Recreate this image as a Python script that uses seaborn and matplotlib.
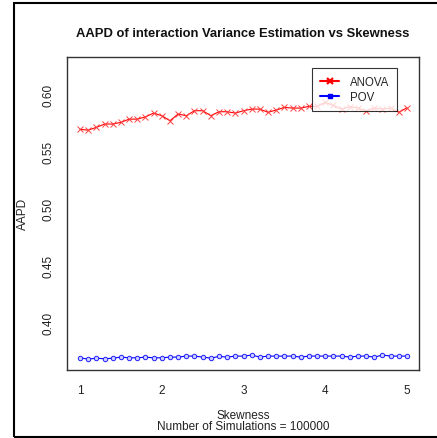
import matplotlib
matplotlib.use("Agg")
import matplotlib.pyplot as plt
import seaborn as sns
import pandas as pd
import numpy as np
from matplotlib.patches import Rectangle
from matplotlib.lines import Line2D

skewness = [1.0, 1.1, 1.2, 1.3, 1.4, 1.5, 1.6, 1.7, 1.8, 1.9,
            2.0, 2.1, 2.2, 2.3, 2.4, 2.5, 2.6, 2.7, 2.8, 2.9,
            3.0, 3.1, 3.2, 3.3, 3.4, 3.5, 3.6, 3.7, 3.8, 3.9,
            4.0, 4.1, 4.2, 4.3, 4.4, 4.5, 4.6, 4.7, 4.8, 4.9, 5.0]
anova = [0.5690, 0.5684, 0.5708, 0.5737, 0.5737, 0.5752, 0.5780, 0.5780, 0.5800, 0.5833,
         0.5810, 0.5766, 0.5825, 0.5810, 0.5854, 0.5854, 0.5810, 0.5845, 0.5845, 0.5833,
         0.5854, 0.5868, 0.5868, 0.5840, 0.5860, 0.5883, 0.5877, 0.5877, 0.5892, 0.5892,
         0.5927, 0.5900, 0.5868, 0.5890, 0.5877, 0.5854, 0.5877, 0.5868, 0.5877, 0.5840, 0.5880]
pov = [0.3687, 0.3675, 0.3684, 0.3678, 0.3684, 0.3693, 0.3687, 0.3687, 0.3693, 0.3687,
       0.3687, 0.3693, 0.3693, 0.3702, 0.3702, 0.3693, 0.3684, 0.3699, 0.3693, 0.3702,
       0.3702, 0.3711, 0.3693, 0.3702, 0.3702, 0.3702, 0.3702, 0.3693, 0.3702, 0.3702,
       0.3702, 0.3702, 0.3702, 0.3693, 0.3702, 0.3702, 0.3693, 0.3711, 0.3702, 0.3702, 0.3702]
series_names = ["ANOVA", "POV"]
yticks = [0.40, 0.45, 0.50, 0.55, 0.60]
xticks = [1, 2, 3, 4, 5]

sns.set_style("white")
plt.rcParams['font.family'] = ['Liberation Sans', 'DejaVu Sans']

df = pd.DataFrame({
    "Skewness": skewness * 2,
    "AAPD": anova + pov,
    "Method": [series_names[0]] * len(skewness) + [series_names[1]] * len(skewness),
})

W, H = 437, 439
fig = plt.figure(figsize=(W / 100, H / 100), dpi=100)
ax = fig.add_axes([67 / W, 1 - 371 / H, (419 - 67) / W, (371 - 58) / H])

sns.lineplot(data=df[df.Method == "ANOVA"], x="Skewness", y="AAPD", ax=ax,
             color="#ff0000", marker="x", markersize=4.5, markeredgewidth=0.7,
             markeredgecolor="#ff4040",
             linewidth=0.8, legend=False)
sns.lineplot(data=df[df.Method == "POV"], x="Skewness", y="AAPD", ax=ax,
             color="#0000ff", marker="o", markersize=3.2, markerfacecolor="#d0d0ff",
             markeredgecolor="#2020ff", markeredgewidth=0.7,
             linewidth=0.8, legend=False)

ax.set_xlim(0.84, 5.147)
ax.set_ylim(0.358, 0.6325)
ax.set_xticks(xticks)
ax.set_xticklabels([str(t) for t in xticks])
ax.set_yticks(yticks)
ax.set_yticklabels([f"{t:.2f}" for t in yticks], rotation=90, va="center")
ax.tick_params(axis="both", direction="out", length=5, width=0.8, color="#333333",
               labelsize=8.5, labelcolor="#222222")
ax.tick_params(axis="x", pad=5)
ax.tick_params(axis="y", pad=4)
for s in ax.spines.values():
    s.set_color("#333333")
    s.set_linewidth(1.0)
ax.set_xlabel("")
ax.set_ylabel("")

handles = [
    Line2D([], [], color="#ff0000", marker="x", markersize=4.5, markeredgewidth=1.6,
           linewidth=1.5),
    Line2D([], [], color="#0000ff", marker="s", markersize=3, markeredgewidth=1.0,
           linewidth=1.5),
]
leg = ax.legend(handles, series_names, loc="upper right", bbox_to_anchor=(0.9375, 0.965),
                borderaxespad=0, frameon=True, fancybox=False, fontsize=8.3,
                handlelength=1.7, handletextpad=0.9, borderpad=0.7, labelspacing=0.25)
leg.get_frame().set_edgecolor("black")
leg.get_frame().set_linewidth(0.8)

fig.text(243 / W, 1 - 34 / H, "AAPD of interaction Variance Estimation vs Skewness",
         ha="center", va="center", fontsize=9.4, fontweight="bold", color="#111111")
fig.text(23 / W, 1 - 214 / H, "AAPD", rotation=90, ha="center", va="center",
         fontsize=8.5, color="#222222")
fig.text(243 / W, 1 - 416 / H, "Skewness", ha="center", va="center",
         fontsize=8.5, color="#222222")
fig.text(243 / W, 1 - 427 / H, "Number of Simulations = 100000", ha="center", va="center",
         fontsize=8.5, color="#222222")

fig.patches.append(Rectangle((13.5 / W, 1 - 438 / H), (W + 10 - 13.5) / W, (438 - 3.5) / H,
                             transform=fig.transFigure, fill=False, edgecolor="black",
                             linewidth=1.5, clip_on=False))

fig.savefig("out.png", dpi=100)
